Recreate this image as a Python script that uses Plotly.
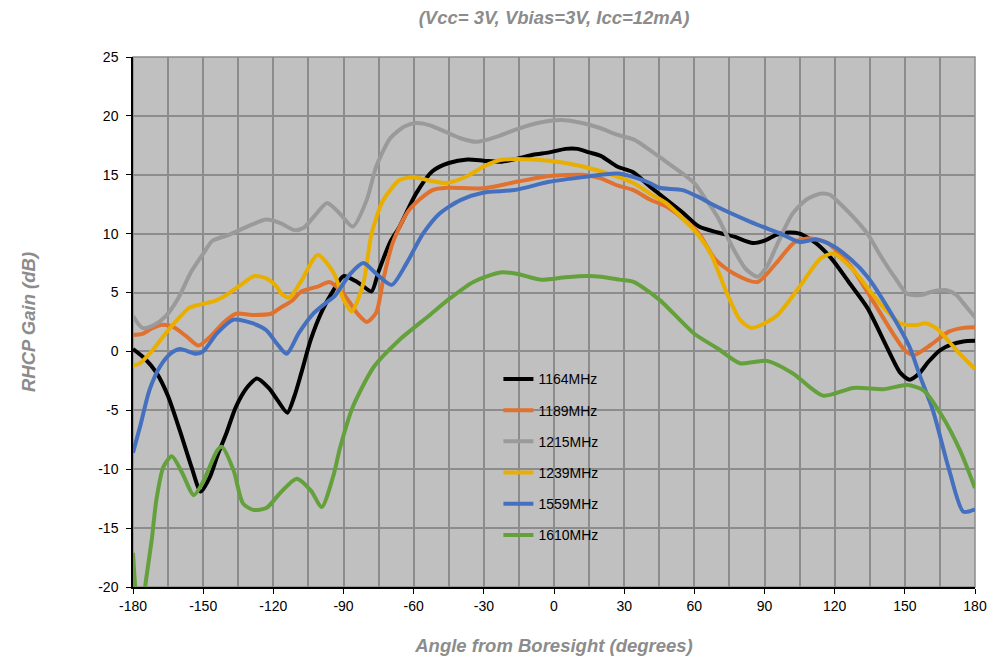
import plotly.graph_objects as go

# ---- data (angle in degrees, RHCP gain in dB) ----
ang_1164 = [-180,-175,-170,-165,-160,-155,-151,-147,-144,-140,-136,-131,-127,-122,-118,-114,-111,-108,-104,-99,-94,-90,-85,-82,-78,-75,-70,-66,-59,-52,-45,-37,-30,-23,-15,-9,-2,5,10,15,20,27,34,41,48,55,62,70,77,85,90,95,100,105,112,119,126,134,142,148,152,156,160,165,170,175,180]
gain_1164 = [0.2,-0.6,-1.8,-3.8,-6.7,-9.8,-11.9,-10.6,-8.9,-6.9,-4.7,-3.0,-2.3,-3.1,-4.2,-5.2,-3.8,-1.8,1.0,3.5,5.3,6.4,6.0,5.6,5.1,6.8,9.3,10.6,13.4,15.3,16.0,16.3,16.2,16.1,16.4,16.7,16.9,17.2,17.2,16.9,16.6,15.7,15.2,14.0,12.9,11.8,10.6,10.1,9.75,9.2,9.4,9.9,10.1,10.0,9.2,7.8,5.9,3.7,0.5,-1.8,-2.4,-1.9,-0.9,0.1,0.6,0.85,0.9]

ang_1189 = [-180,-176,-172,-168,-163,-157,-152,-147,-141,-136,-129,-121,-117,-112,-108,-101,-96,-90,-84,-80,-76,-73,-69,-62,-52,-45,-30,-16,-2,12,20,27,34,41,48,55,62,69,77,87,95,103,110,117,127,136,145,150,154,161,169,175,180]
gain_1189 = [1.4,1.5,1.95,2.25,2.1,1.25,0.5,1.25,2.5,3.2,3.1,3.2,3.7,4.3,5.1,5.5,5.9,4.9,3.2,2.5,3.3,6.1,9.2,12.0,13.7,13.9,13.85,14.4,14.9,15.0,14.7,14.1,13.7,12.9,12.3,11.3,10.0,7.8,6.6,5.9,7.5,9.3,9.6,9.2,7.2,4.4,1.5,0.1,-0.3,0.55,1.7,2.0,2.05]

ang_1215 = [-180,-176,-171,-166,-161,-155,-150,-146,-139,-130,-123,-117,-111,-107,-102,-97,-92,-86,-80,-76,-70,-64,-59,-53,-47,-40,-33,-25,-17,-7,3,12,20,27,34,41,48,55,60,65,70,77,82,87,91,95,102,108,114,118,122,128,134,140,146,151,157,162,168,172,175,180]
gain_1215 = [3.0,2.0,2.25,3.0,4.4,6.8,8.3,9.4,9.9,10.7,11.2,10.9,10.3,10.5,11.6,12.6,11.8,10.6,12.9,15.7,18.1,19.1,19.4,19.2,18.7,18.1,17.8,18.2,18.8,19.4,19.65,19.4,18.95,18.4,18.0,17.1,16.1,15.1,14.3,12.9,11.4,8.6,7.0,6.35,7.2,8.9,11.7,12.9,13.4,13.3,12.6,11.4,10.0,8.0,6.2,4.9,4.8,5.1,5.2,4.8,4.1,2.9]

ang_1239 = [-180,-177,-171,-166,-161,-156,-151,-145,-140,-135,-128,-123,-119,-116,-113,-108,-101,-94,-90,-86.5,-81.5,-78,-73,-66,-60,-53,-46,-37,-30,-23,-9,5,20,34,41,48,55,60,67,74,79.5,84.5,95,105,114,119.5,128,138,148,155,159,164,169,174,180]
gain_1239 = [-1.2,-1.0,0.25,1.55,2.7,3.7,4.0,4.3,4.8,5.5,6.4,6.2,5.6,4.8,4.6,6.0,8.2,6.6,4.4,3.4,5.8,10.0,12.85,14.55,14.8,14.5,14.3,14.9,15.7,16.25,16.3,16.0,15.3,14.3,13.4,12.6,11.3,10.3,8.3,4.9,2.7,2.0,3.0,5.5,7.9,8.3,6.9,4.4,2.4,2.25,2.4,1.9,0.8,-0.3,-1.5]

ang_1559 = [-180,-177,-173,-168.5,-164,-160,-153,-150,-144,-137,-129,-123,-118.6,-114.3,-109,-103,-97,-94,-87,-81.5,-76,-69.4,-63,-56,-49,-40,-30,-17,-2,12.5,27,34,41,45,55,62,69.5,84,98,105,112,119,127,134,145,152,156.5,162,169,175,180]
gain_1559 = [-8.6,-6.4,-3.3,-1.3,-0.2,0.2,-0.2,0.0,1.55,2.7,2.4,1.8,0.7,-0.2,1.6,3.2,4.2,4.65,6.6,7.5,6.6,5.65,7.5,10.0,11.7,12.85,13.5,13.7,14.4,14.8,15.1,14.8,14.3,13.9,13.7,13.1,12.3,11.0,9.9,9.3,9.5,9.0,7.8,6.35,2.95,0.4,-2.1,-5.0,-10.1,-13.6,-13.4]

ang_1610 = [-180,-178.5,-176.5,-174.5,-172,-170,-167,-163.4,-159,-154,-150,-144,-142,-137,-133,-128.6,-123,-117,-110,-104,-99.3,-94.4,-91.5,-86,-77,-66,-54,-44.5,-34.5,-23,-16,-6,5,14,20,28,34,45,60,70,79.5,91,102,115,128,141,151,158,166,173.6,180]
gain_1610 = [-17.1,-21.0,-22.5,-19.5,-16.0,-12.6,-9.8,-8.9,-10.3,-12.2,-11.05,-8.4,-8.1,-10.1,-12.9,-13.45,-13.3,-12.0,-10.8,-11.8,-13.2,-10.6,-8.2,-4.7,-1.3,1.0,2.95,4.5,5.9,6.7,6.6,6.1,6.3,6.4,6.35,6.1,5.9,4.4,1.5,0.25,-1.0,-0.8,-1.85,-3.75,-3.1,-3.2,-2.85,-3.3,-5.5,-8.4,-11.6]

series_names = ["1164MHz", "1189MHz", "1215MHz", "1239MHz", "1559MHz", "1610MHz"]
series_angles = [ang_1164, ang_1189, ang_1215, ang_1239, ang_1559, ang_1610]
series_gains = [gain_1164, gain_1189, gain_1215, gain_1239, gain_1559, gain_1610]
series_colors = ["#000000", "#E0712F", "#9A9A9A", "#E8AE00", "#4470BF", "#64A03C"]

x_ticks = list(range(-180, 181, 30))
y_ticks = list(range(-20, 26, 5))

fig = go.Figure()
for name, xs, ys, col in zip(series_names, series_angles, series_gains, series_colors):
    fig.add_trace(go.Scatter(
        x=xs, y=ys, name=name, mode="lines", legendgroup=name,
        line=dict(color=col, width=4, shape="spline", smoothing=0.7),
    ))

FONT = "Liberation Sans, Arial, sans-serif"
fig.update_layout(
    width=991, height=656,
    margin=dict(l=133, r=16, t=57, b=69, autoexpand=False),
    paper_bgcolor="white",
    plot_bgcolor="#C0C0C0",
    font=dict(family=FONT, size=14, color="black"),
    title=dict(text="<b><i>(Vcc= 3V, Vbias=3V, Icc=12mA)</i></b>",
               x=(133 + 975) / 2 / 991, xanchor="center", y=1 - 18 / 656, yanchor="middle",
               font=dict(family=FONT, size=18.5, color="#8C8C8C")),
    showlegend=True,
    legend=dict(x=0.434, y=0.422, xanchor="left", yanchor="top",
                bgcolor="rgba(0,0,0,0)", tracegroupgap=10,
                font=dict(family=FONT, size=14, color="black")),
    xaxis=dict(range=[-180, 180], tickvals=x_ticks, ticktext=[str(v) for v in x_ticks],
               automargin=False,
               showgrid=True, gridcolor="#8C8C8C", gridwidth=1.5,
               minor=dict(dtick=15, tick0=-180, showgrid=True, gridcolor="#8C8C8C", gridwidth=1.5),
               showline=True, linecolor="black", linewidth=1.5, mirror=False,
               ticks="outside", ticklen=5, tickcolor="black", zeroline=False,
               title=dict(text="<b><i>Angle from Boresight (degrees)</i></b>", standoff=27,
                          font=dict(family=FONT, size=18.5, color="#8C8C8C"))),
    yaxis=dict(range=[-20, 25], tickvals=y_ticks, ticktext=[str(v) for v in y_ticks],
               automargin=False, ticklabelstandoff=5,
               showgrid=True, gridcolor="#8C8C8C", gridwidth=1.5,
               showline=True, linecolor="black", linewidth=1.5,
               ticks="outside", ticklen=5, tickcolor="black", zeroline=False,
               title=dict(text="<b><i>RHCP Gain (dB)</i></b>", standoff=58,
                          font=dict(family=FONT, size=18.5, color="#8C8C8C"))),
    shapes=[dict(type="rect", xref="paper", yref="paper", x0=0, x1=1, y0=0, y1=1,
                 line=dict(color="#8C8C8C", width=1.5), layer="below", fillcolor="rgba(0,0,0,0)")],
)

fig.write_html("out.html")
